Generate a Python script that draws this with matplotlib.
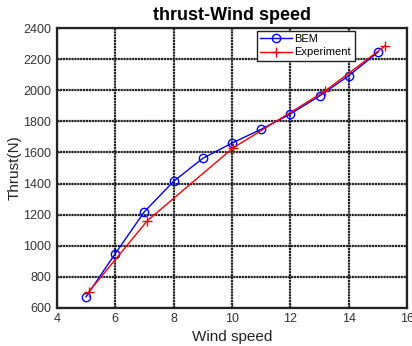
import numpy as np
import matplotlib
matplotlib.use('Agg')
import matplotlib.pyplot as plt

plt.rcParams['font.family'] = ['Liberation Sans', 'DejaVu Sans']

# BEM prediction and measured thrust
bem_speed = [5, 6, 7, 8, 9, 10, 11, 12, 13, 14, 15]
bem_thrust = [672, 949, 1219, 1414, 1562, 1660, 1749, 1847, 1963, 2093, 2244]
exp_speed = [5.1, 7.1, 10.03, 13.19, 15.24]
exp_thrust = [705, 1161, 1628, 1995, 2284]

fig = plt.figure(figsize=(4.12, 3.46), dpi=100)
ax = fig.add_axes([0.138, 0.110, 0.850, 0.809])

ax.plot(bem_speed, bem_thrust, color='blue', marker='o', markersize=6,
        markerfacecolor='none', linewidth=1, label='BEM')
ax.plot(exp_speed, exp_thrust, color='red', marker='+', markersize=7,
        linewidth=1, label='Experiment')

ax.set_xlim(4, 16)
ax.set_ylim(600, 2400)
ax.set_xticks(np.arange(4, 17, 2))
ax.set_yticks(np.arange(600, 2401, 200))
ax.grid(True, color='#222222', linestyle=(0, (1, 0.3)), linewidth=1.6)
ax.tick_params(labelsize=9, direction='in', length=3, pad=4, colors='#333333')
for s in ax.spines.values():
    s.set_linewidth(1.6)
    s.set_color('#222222')

ax.set_xlabel('Wind speed', fontsize=11, labelpad=3, color='#222222')
ax.set_ylabel('Thrust(N)', fontsize=11, color='#222222')
ax.yaxis.set_label_coords(-0.1, 0.5)
ax.set_title('thrust-Wind speed', fontsize=13, fontweight='bold', pad=6)

leg = ax.legend(loc='upper left', bbox_to_anchor=(0.571, 0.99), fontsize=8,
                fancybox=False, framealpha=1, edgecolor='#222222',
                borderpad=0.3, handlelength=2.9, handletextpad=0.2,
                labelspacing=0.3, borderaxespad=0)
leg.get_frame().set_linewidth(1)

fig.savefig('out.png', dpi=100)
